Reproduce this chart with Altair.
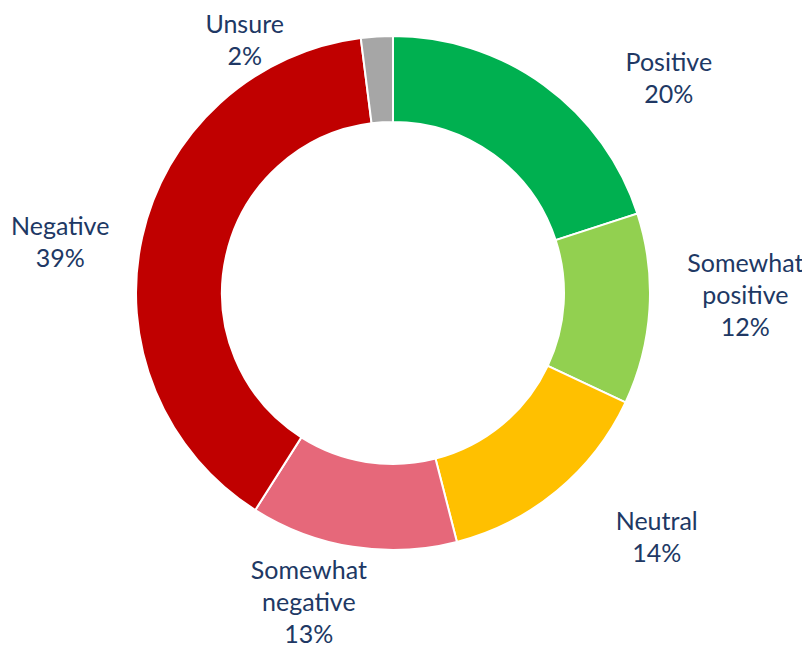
import altair as alt
import pandas as pd

categories = ["Positive", "Somewhat positive", "Neutral", "Somewhat negative", "Negative", "Unsure"]
values = [20, 12, 14, 13, 39, 2]
label_texts = ["Positive", "Somewhat\npositive", "Neutral", "Somewhat\nnegative", "Negative", "Unsure"]
colors = ["#00B050", "#92D050", "#FFC000", "#E6687A", "#C00000", "#A6A6A6"]

df = pd.DataFrame({
    "category": categories,
    "value": values,
    "idx": list(range(len(categories))),
    "label": [f"{t}\n{v}%" for t, v in zip(label_texts, values)],
})

theta = alt.Theta("value:Q", stack=True, scale=alt.Scale(domain=[0, 100]))
order = alt.Order("idx:Q", sort="ascending")

base = alt.Chart(df)

arcs = base.mark_arc(innerRadius=171, outerRadius=257, stroke="white", strokeWidth=2).encode(
    theta=theta,
    order=order,
    color=alt.Color("category:N", scale=alt.Scale(domain=categories, range=colors), legend=None),
)

# label placement offsets (mark styles, per category)
offsets = {
    "Positive": (76, 45),
    "Somewhat positive": (13, -50),
    "Neutral": (47, -33),
    "Somewhat negative": (-31, -58),
    "Negative": (-1, 8),
    "Unsure": (-127, 71),
}

layers = [arcs]
for cat in categories:
    dx, dy = offsets[cat]
    layers.append(
        base.mark_text(
            radius=340, dx=dx, dy=dy, align="center", baseline="middle",
            font="Lato", fontSize=25, lineHeight=32, color="#203864", lineBreak="\n",
        ).encode(
            theta=theta,
            order=order,
            text="label:N",
            opacity=alt.condition(alt.datum.category == cat, alt.value(1), alt.value(0)),
        )
    )

chart = alt.layer(*layers).properties(
    width=770,
    height=558,
    autosize=alt.AutoSizeParams(type="none"),
    padding={"left": 0, "top": 6, "right": 24, "bottom": 80},
).configure_view(stroke=None)

chart.save("out.html", embed_options={"renderer": "svg", "actions": False})
